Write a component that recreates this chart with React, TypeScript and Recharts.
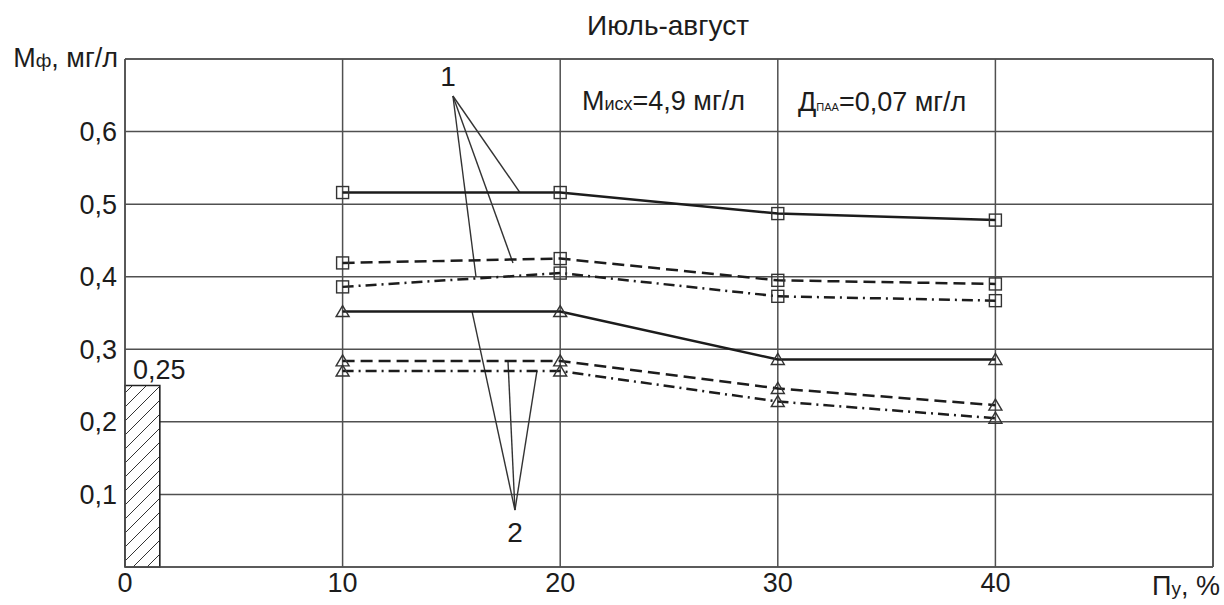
import React from 'react';
import {
  ComposedChart,
  Line,
  XAxis,
  YAxis,
  CartesianGrid,
  ReferenceArea,
  ReferenceLine,
  ReferenceDot,
} from 'recharts';

// Пу, % (доля уплотнения)
const shares = [10, 20, 30, 40];

// остаточная концентрация Мф, мг/л — квадраты (группа 1)
const sqSolid = [0.516, 0.516, 0.487, 0.478];
const sqDashed = [0.419, 0.425, 0.395, 0.39];
const sqDashDot = [0.386, 0.405, 0.373, 0.367];

// треугольники (группа 2)
const triSolid = [0.352, 0.352, 0.286, 0.286];
const triDashed = [0.284, 0.284, 0.246, 0.223];
const triDashDot = [0.27, 0.27, 0.228, 0.205];

// норматив ПДК
const normValue = 0.25;
const normWidth = 1.6;

const xTicks = [0, 10, 20, 30, 40];
const yTicks = [0.1, 0.2, 0.3, 0.4, 0.5, 0.6];

// выноски "1" и "2": вершина и точки на кривых
const callout1 = { x: 15.07, y: 0.649 };
const callout1Ends = [
  { x: 18.15, y: 0.516 },
  { x: 17.83, y: 0.419 },
  { x: 16.13, y: 0.4 },
];
const callout2 = { x: 17.92, y: 0.0785 };
const callout2Ends = [
  { x: 15.95, y: 0.352 },
  { x: 17.6, y: 0.284 },
  { x: 18.93, y: 0.27 },
];

const data = shares.map((x, i) => ({
  x,
  sqSolid: sqSolid[i],
  sqDashed: sqDashed[i],
  sqDashDot: sqDashDot[i],
  triSolid: triSolid[i],
  triDashed: triDashed[i],
  triDashDot: triDashDot[i],
}));

const FONT = '"Liberation Sans", Arial, sans-serif';
const INK = '#1c1c1c';
const GRID = '#505050';

const SquareDot = (props: any) => {
  const { cx, cy, index } = props;
  if (cx == null || cy == null) return null;
  return (
    <rect key={index} x={cx - 6} y={cy - 6} width={12} height={12} fill="none" stroke="#333" strokeWidth={1.4} />
  );
};

const TriangleDot = (props: any) => {
  const { cx, cy, index } = props;
  if (cx == null || cy == null) return null;
  return (
    <path
      key={index}
      d={`M${cx},${cy - 6} L${cx + 6.5},${cy + 5} L${cx - 6.5},${cy + 5} Z`}
      fill="none"
      stroke="#333"
      strokeWidth={1.4}
    />
  );
};

const NormLabel = (props: any) => {
  const { viewBox } = props;
  if (!viewBox) return null;
  return (
    <text x={viewBox.x + 8} y={viewBox.y - 7} fontSize={27} fontFamily={FONT} fill={INK}>
      {String(normValue).replace('.', ',')}
    </text>
  );
};

const series = [
  { key: 'sqSolid', dash: undefined, dot: SquareDot },
  { key: 'sqDashed', dash: '12 6', dot: SquareDot },
  { key: 'sqDashDot', dash: '11 5 2 5', dot: SquareDot },
  { key: 'triSolid', dash: undefined, dot: TriangleDot },
  { key: 'triDashed', dash: '12 6', dot: TriangleDot },
  { key: 'triDashDot', dash: '11 5 2 5', dot: TriangleDot },
];

export default function App() {
  return (
    <div style={{ position: 'absolute', left: 0, top: 0, background: '#fff' }}>
      <ComposedChart
        width={1224}
        height={605}
        data={data}
        margin={{ top: 59, right: 11, bottom: 0, left: 0 }}
        style={{ fontFamily: FONT }}
      >
        <defs>
          <pattern id="hatch" patternUnits="userSpaceOnUse" width="14" height="14">
            <rect width="14" height="14" fill="#fff" />
            <path d="M-2,16 L16,-2 M-2,2 L2,-2 M12,16 L16,12" stroke="#333" strokeWidth="1" />
          </pattern>
        </defs>

        <CartesianGrid stroke={GRID} strokeWidth={1.5} />

        <XAxis
          dataKey="x"
          type="number"
          domain={[0, 50]}
          ticks={xTicks}
          height={38}
          tickSize={0}
          tickMargin={6}
          axisLine={{ stroke: GRID, strokeWidth: 1.6 }}
          tick={{ fontSize: 27, fill: INK, fontFamily: FONT }}
        />
        <YAxis
          type="number"
          domain={[0, 0.7]}
          ticks={yTicks}
          width={125}
          tickSize={0}
          tickMargin={8}
          axisLine={{ stroke: GRID, strokeWidth: 1.6 }}
          tickFormatter={(v: number) => String(v).replace('.', ',')}
          tick={{ fontSize: 27, fill: INK, fontFamily: FONT }}
        />

        {/* рамка поля графика */}
        <ReferenceLine y={0.7} stroke={GRID} strokeWidth={1.6} />
        <ReferenceLine x={50} stroke={GRID} strokeWidth={1.6} />

        {/* заштрихованный столбец ПДК */}
        <ReferenceArea
          x1={0}
          x2={normWidth}
          y1={0}
          y2={normValue}
          fill="url(#hatch)"
          fillOpacity={1}
          stroke="#222"
          strokeWidth={1.6}
          label={<NormLabel />}
        />

        {callout1Ends.map((p, i) => (
          <ReferenceLine key={'c1' + i} segment={[callout1, p]} stroke="#333" strokeWidth={1.4} />
        ))}
        {callout2Ends.map((p, i) => (
          <ReferenceLine key={'c2' + i} segment={[callout2, p]} stroke="#333" strokeWidth={1.4} />
        ))}

        {series.map((s) => (
          <Line
            key={s.key}
            dataKey={s.key}
            type="linear"
            stroke={INK}
            strokeWidth={2.5}
            strokeDasharray={s.dash}
            dot={s.dot}
            activeDot={false}
            isAnimationActive={false}
          />
        ))}

        <ReferenceDot
          x={14.84}
          y={0.676}
          r={0}
          stroke="none"
          label={{ value: '1', position: 'center', fontSize: 28, fill: INK, fontFamily: FONT }}
        />
        <ReferenceDot
          x={17.92}
          y={0.0475}
          r={0}
          stroke="none"
          label={{ value: '2', position: 'center', fontSize: 28, fill: INK, fontFamily: FONT }}
        />

        <text x={668} y={35} textAnchor="middle" fontSize={28} fontFamily={FONT} fill={INK}>
          Июль-август
        </text>
        <text x={118} y={67} textAnchor="end" fontSize={27} fontFamily={FONT} fill={INK}>
          М<tspan fontSize={19}>ф</tspan>, мг/л
        </text>
        <text x={1152} y={595} fontSize={27} fontFamily={FONT} fill={INK}>
          П<tspan fontSize={19}>у</tspan>, %
        </text>
        <text x={582} y={110} fontSize={27} fontFamily={FONT} fill={INK}>
          М<tspan fontSize={18}>исх</tspan>=4,9 мг/л
        </text>
        <text x={798} y={111} fontSize={27} fontFamily={FONT} fill={INK}>
          Д<tspan fontSize={11}>ПАА</tspan>=0,07 мг/л
        </text>
      </ComposedChart>
    </div>
  );
}
